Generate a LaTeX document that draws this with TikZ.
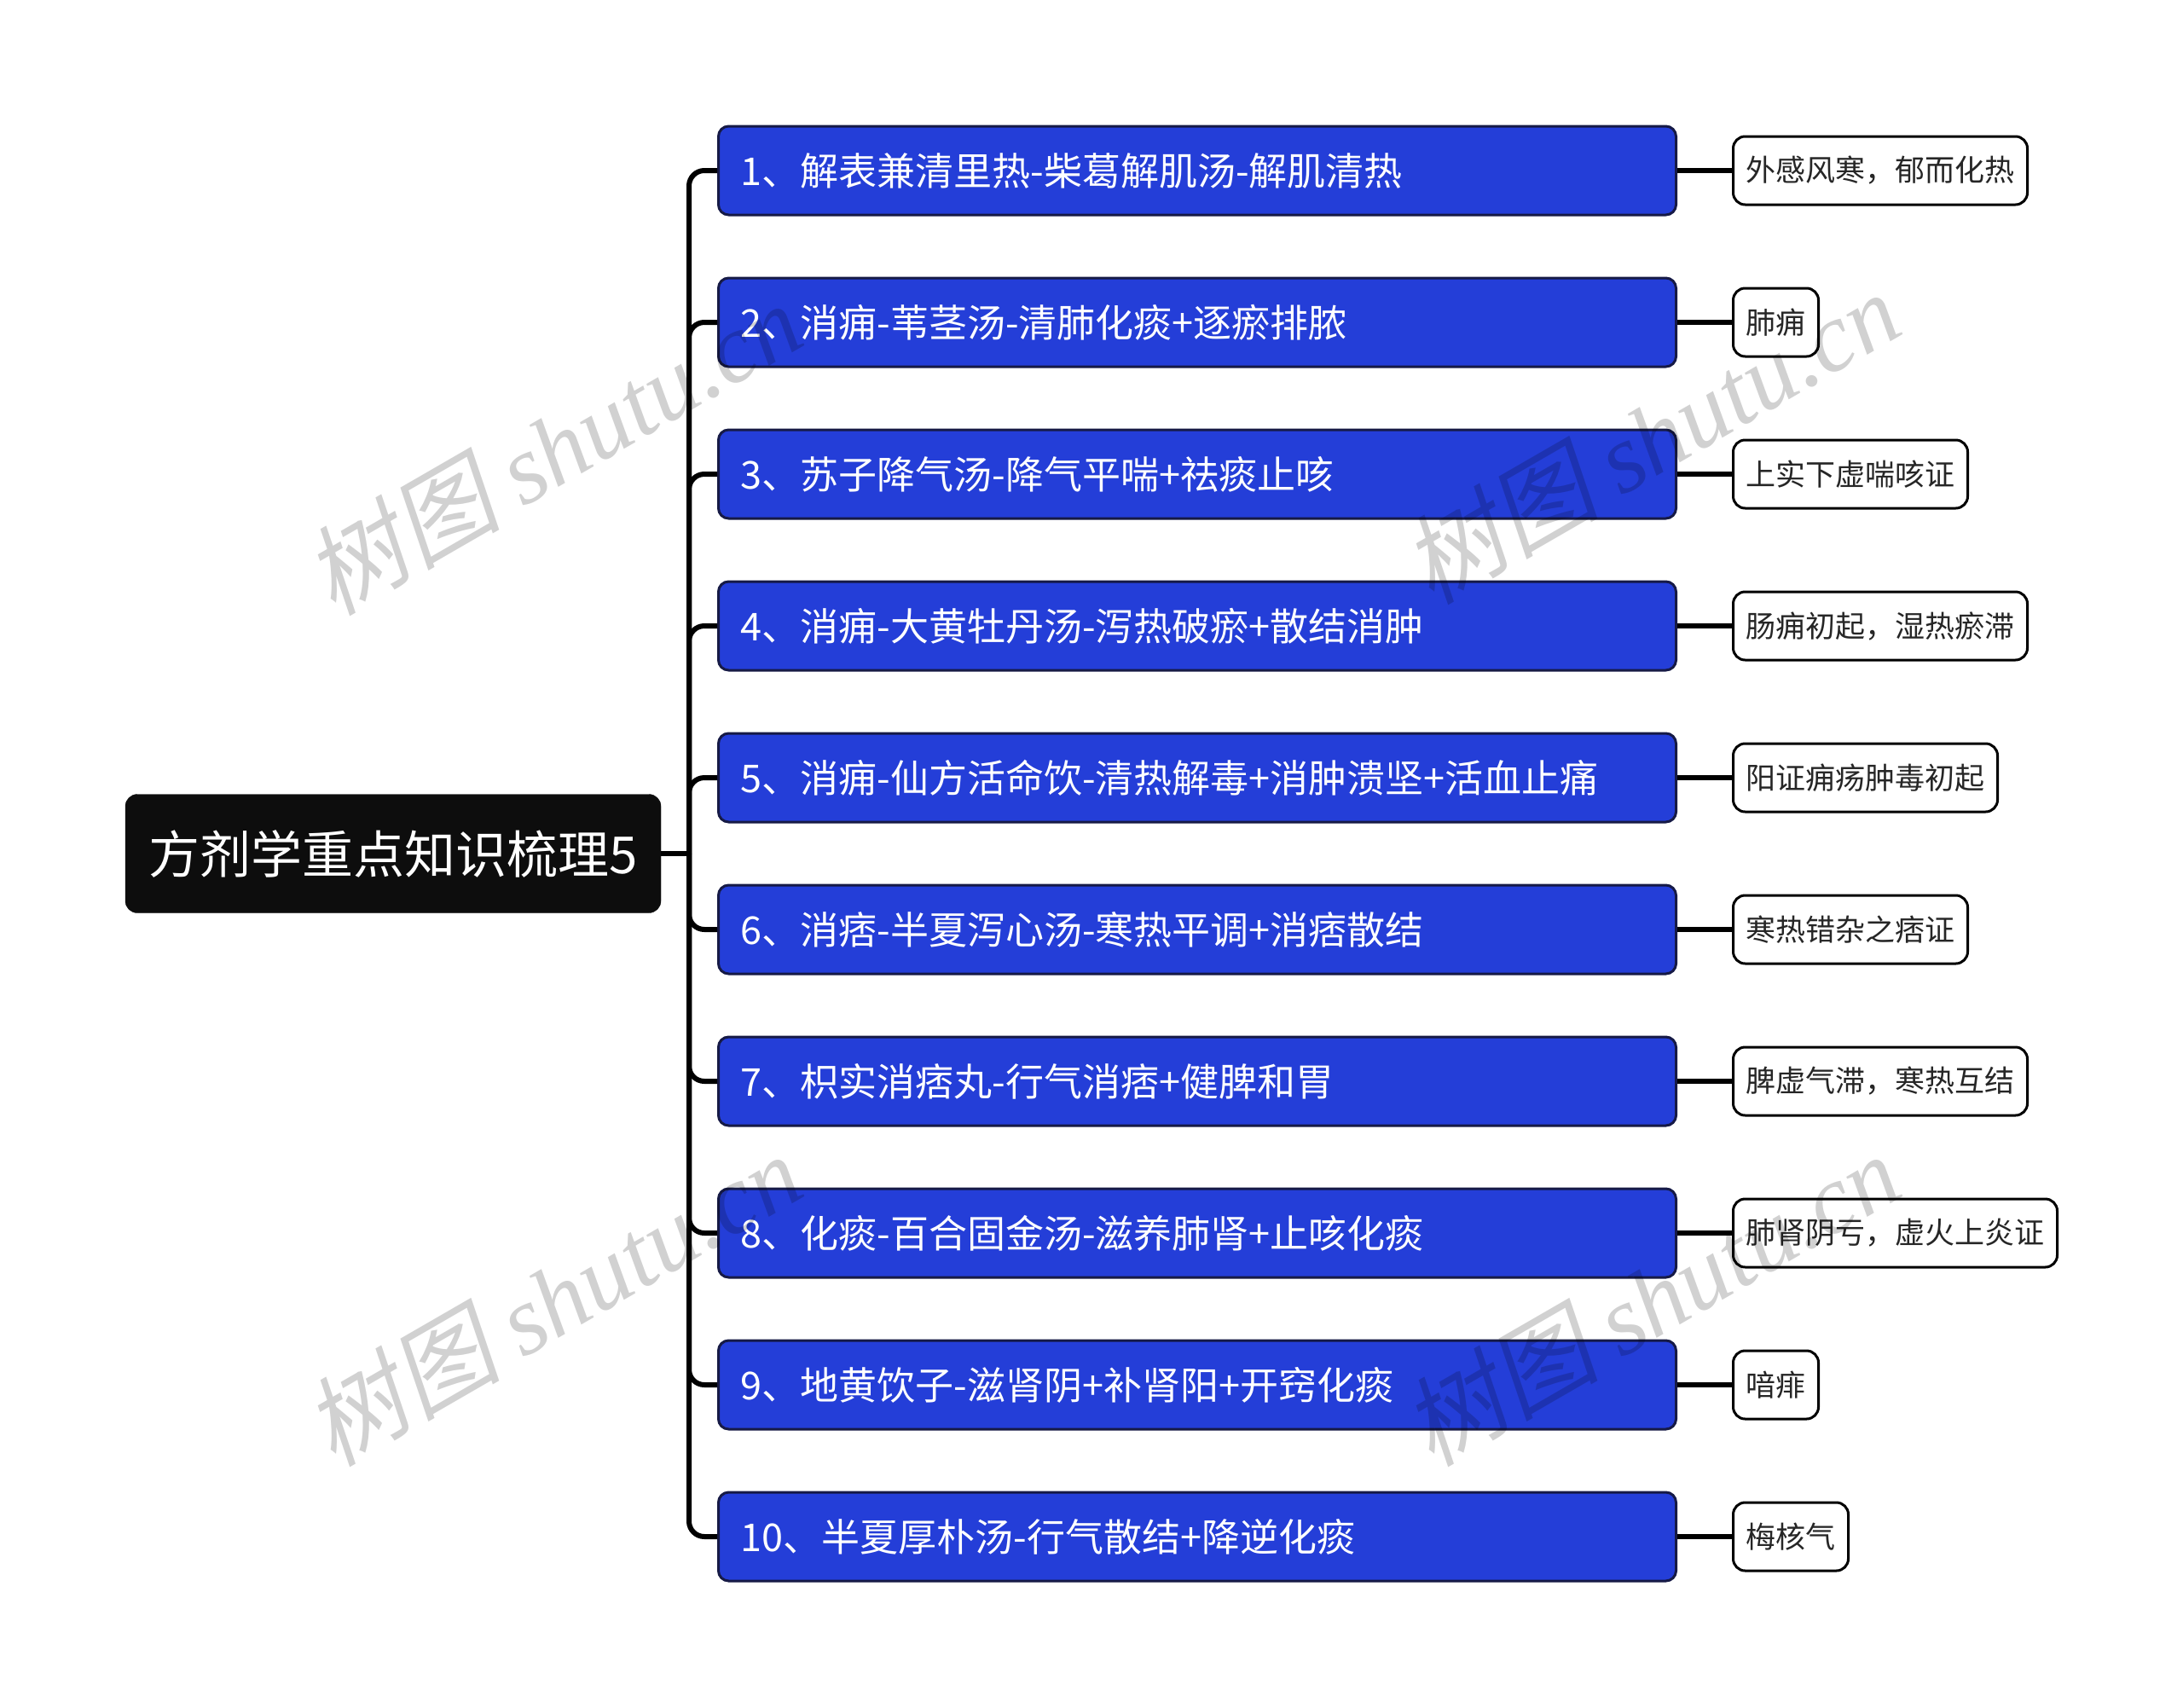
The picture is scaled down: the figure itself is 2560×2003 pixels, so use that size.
\documentclass[tikz,border=0pt]{standalone}
\usepackage{fontspec}
\setmainfont{Noto Sans CJK SC}
\newfontfamily\wmcjk[FakeSlant=0.2]{Noto Sans CJK SC}
\newfontfamily\wmlat{Liberation Serif}
\definecolor{boxblue}{RGB}{36,62,216}
\definecolor{boxedge}{RGB}{22,26,70}
\definecolor{rootblack}{RGB}{13,13,13}
\begin{document}
\begin{tikzpicture}[x=1pt,y=-1pt,
  rootbox/.style={fill=rootblack, draw=rootblack, rounded corners=14pt, minimum width=628pt, minimum height=139pt, inner sep=0pt, text=white, font=\fontsize{60}{66}\selectfont},
  bluebox/.style={fill=boxblue, draw=boxedge, line width=3pt, rounded corners=12pt, text width=1071pt, align=left, inner xsep=26pt, inner ysep=0pt, minimum height=104pt, text=white, font=\fontsize{45}{50}\selectfont, anchor=west},
  leafbox/.style={fill=white, draw=black, line width=3pt, rounded corners=14pt, inner xsep=15pt, inner ysep=0pt, minimum height=80pt, text=black!85, font=\fontsize{35}{40}\selectfont, anchor=west},
  conn/.style={line width=6pt, draw=black},
  wm/.style={text=black, text opacity=0.18, font=\fontsize{115}{120}\selectfont, rotate=30}
]
\useasboundingbox (0,0) rectangle (2560,2003);
\fill[white] (0,0) rectangle (2560,2003);

\node[rootbox] (root) at (461,1001) {方剂学重点知识梳理5};
\coordinate (tk) at (808,1001);

\node[bluebox] (b1) at (841,200) {1、解表兼清里热-柴葛解肌汤-解肌清热};
\node[bluebox] (b2) at (841,378) {2、消痈-苇茎汤-清肺化痰+逐瘀排脓};
\node[bluebox] (b3) at (841,556) {3、苏子降气汤-降气平喘+祛痰止咳};
\node[bluebox] (b4) at (841,734) {4、消痈-大黄牡丹汤-泻热破瘀+散结消肿};
\node[bluebox] (b5) at (841,912) {5、消痈-仙方活命饮-清热解毒+消肿溃坚+活血止痛};
\node[bluebox] (b6) at (841,1090) {6、消痞-半夏泻心汤-寒热平调+消痞散结};
\node[bluebox] (b7) at (841,1268) {7、枳实消痞丸-行气消痞+健脾和胃};
\node[bluebox] (b8) at (841,1446) {8、化痰-百合固金汤-滋养肺肾+止咳化痰};
\node[bluebox] (b9) at (841,1624) {9、地黄饮子-滋肾阴+补肾阳+开窍化痰};
\node[bluebox] (b10) at (841,1802) {10、半夏厚朴汤-行气散结+降逆化痰};

\node[leafbox] (l1) at (2031,200) {外感风寒，郁而化热};
\node[leafbox] (l2) at (2031,378) {肺痈};
\node[leafbox] (l3) at (2031,556) {上实下虚喘咳证};
\node[leafbox] (l4) at (2031,734) {肠痈初起，湿热瘀滞};
\node[leafbox] (l5) at (2031,912) {阳证痈疡肿毒初起};
\node[leafbox] (l6) at (2031,1090) {寒热错杂之痞证};
\node[leafbox] (l7) at (2031,1268) {脾虚气滞，寒热互结};
\node[leafbox] (l8) at (2031,1446) {肺肾阴亏，虚火上炎证};
\node[leafbox] (l9) at (2031,1624) {喑痱};
\node[leafbox] (l10) at (2031,1802) {梅核气};

\draw[conn] (root.east) -- (tk);
\foreach \i in {1,...,10} {
  \draw[conn, rounded corners=18pt] (tk) |- (b\i.west);
  \draw[conn] (b\i.east) -- (l\i.west);
}

\node[wm] (w1) at (648,525) {{\wmcjk 树图} {\wmlat\itshape shutu.cn}};
\node[wm] (w2) at (1936,512) {{\wmcjk 树图} {\wmlat\itshape shutu.cn}};
\node[wm] (w3) at (648,1523) {{\wmcjk 树图} {\wmlat\itshape shutu.cn}};
\node[wm] (w4) at (1936,1523) {{\wmcjk 树图} {\wmlat\itshape shutu.cn}};
\end{tikzpicture}
\end{document}
